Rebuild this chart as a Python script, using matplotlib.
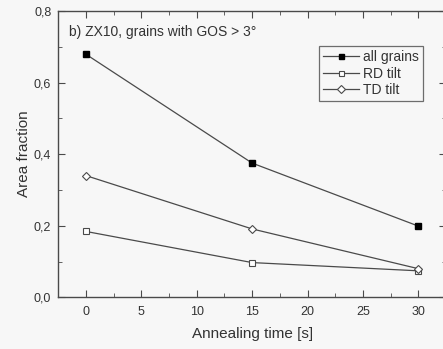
import matplotlib.pyplot as plt
from matplotlib.ticker import MultipleLocator, FuncFormatter

plt.rcParams['font.family'] = ['Liberation Sans', 'DejaVu Sans']

tiempo = [0, 15, 30]
all_grains = [0.679, 0.375, 0.199]
rd_tilt = [0.184, 0.097, 0.074]
td_tilt = [0.340, 0.191, 0.080]

gris = '#4a4a4a'

fig = plt.figure(figsize=(4.43, 3.49), dpi=100)
fig.patch.set_facecolor('#f7f7f7')
ax = fig.add_axes([58.3 / 443, 1 - 297.3 / 349, (446 - 58.3) / 443, (297.3 - 11) / 349])
ax.set_facecolor('#f7f7f7')

ax.plot(tiempo, all_grains, color=gris, lw=0.9, marker='s', ms=4.5,
        mfc='black', mec='black', label='all grains')
ax.plot(tiempo, rd_tilt, color=gris, lw=0.9, marker='s', ms=4.5,
        mfc='white', mec=gris, mew=0.8, label='RD tilt')
ax.plot(tiempo, td_tilt, color=gris, lw=0.9, marker='D', ms=4.5,
        mfc='white', mec=gris, mew=0.8, label='TD tilt')

ax.set_xlim(-2.5, 32.5)
ax.set_ylim(0, 0.8)
ax.xaxis.set_major_locator(MultipleLocator(5))
ax.xaxis.set_minor_locator(MultipleLocator(2.5))
ax.yaxis.set_major_locator(MultipleLocator(0.2))
ax.yaxis.set_minor_locator(MultipleLocator(0.1))
ax.yaxis.set_major_formatter(FuncFormatter(lambda v, p: f'{v:.1f}'.replace('.', ',')))
ax.tick_params(which='both', direction='in', top=True, right=True, colors=gris,
               labelcolor='#333333', labelsize=9)
ax.tick_params(which='major', length=5, pad=6)
ax.tick_params(axis='y', which='major', pad=5)
ax.tick_params(which='minor', length=2.7)
for s in ax.spines.values():
    s.set_color(gris)
    s.set_linewidth(1.0)

ax.set_xlabel('Annealing time [s]', fontsize=11, color='#333333', labelpad=7)
ax.set_ylabel('Area fraction', fontsize=11, color='#333333', labelpad=2)
ax.text(0.028, 0.95, 'b) ZX10, grains with GOS > 3°', transform=ax.transAxes,
        fontsize=10, color='#333333', va='top')

leg = ax.legend(loc='upper right', bbox_to_anchor=(423 / 443, 1 - 46 / 349),
                bbox_transform=fig.transFigure, fontsize=10, frameon=True,
                fancybox=False, edgecolor=gris, handlelength=2.6, markerscale=0.8,
                handletextpad=0.3, borderpad=0.3, labelspacing=0.18,
                borderaxespad=0)
leg.get_frame().set_linewidth(0.9)
leg.get_frame().set_facecolor('#f7f7f7')
for t in leg.get_texts():
    t.set_color('#333333')

plt.savefig('out.png', dpi=100, facecolor=fig.get_facecolor())
